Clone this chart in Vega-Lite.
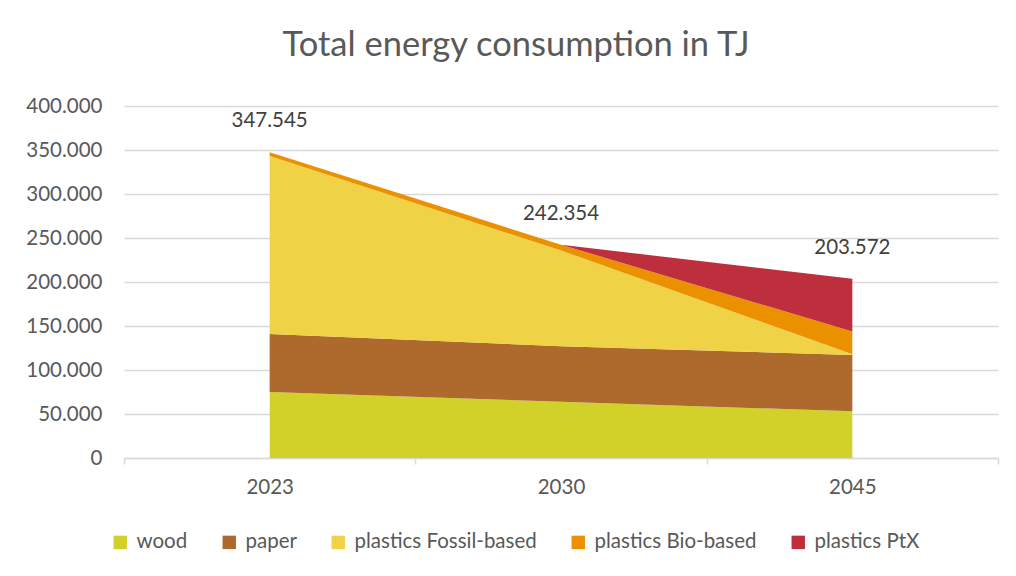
{
  "$schema": "https://vega.github.io/schema/vega-lite/v6.json",
  "width": 874,
  "height": 352,
  "autosize": "none",
  "padding": {"left": 124, "top": 106, "right": 18, "bottom": 118},
  "background": "white",
  "title": {
    "text": "Total energy consumption in TJ",
    "anchor": "middle",
    "frame": "group",
    "dx": -45,
    "baseline": "alphabetic",
    "offset": 6,
    "font": "Lato",
    "fontSize": 34.5,
    "fontWeight": "normal",
    "color": "#595959"
  },
  "data": {
    "values": [
      {"year": "2023", "source": "wood", "value": 75000},
      {"year": "2023", "source": "paper", "value": 66000},
      {"year": "2023", "source": "plastics Fossil-based", "value": 202045},
      {"year": "2023", "source": "plastics Bio-based", "value": 4500},
      {"year": "2023", "source": "plastics PtX", "value": 0},
      {"year": "2030", "source": "wood", "value": 64000},
      {"year": "2030", "source": "paper", "value": 63000},
      {"year": "2030", "source": "plastics Fossil-based", "value": 108854},
      {"year": "2030", "source": "plastics Bio-based", "value": 6500},
      {"year": "2030", "source": "plastics PtX", "value": 0},
      {"year": "2045", "source": "wood", "value": 53000},
      {"year": "2045", "source": "paper", "value": 64000},
      {"year": "2045", "source": "plastics Fossil-based", "value": 800},
      {"year": "2045", "source": "plastics Bio-based", "value": 26000},
      {"year": "2045", "source": "plastics PtX", "value": 59772}
    ]
  },
  "encoding": {
    "x": {
      "field": "year",
      "type": "ordinal",
      "bandPosition": 0.5,
      "scale": {"type": "band", "paddingInner": 0, "paddingOuter": 0},
      "axis": {
        "title": null,
        "labelAngle": 0,
        "tickBand": "extent",
        "ticks": true,
        "tickSize": 6,
        "tickColor": "#d9d9d9",
        "tickWidth": 1.5,
        "domain": true,
        "domainColor": "#d9d9d9",
        "domainWidth": 1.5,
        "grid": false,
        "labelPadding": 13,
        "labelFont": "Lato",
        "labelFontSize": 20.5,
        "labelColor": "#595959"
      }
    }
  },
  "layer": [
    {
      "transform": [
        {"calculate": "indexof(['wood', 'paper', 'plastics Fossil-based', 'plastics Bio-based', 'plastics PtX'], datum.source)", "as": "stack_rank"}
      ],
      "mark": {"type": "area", "interpolate": "linear", "opacity": 1},
      "encoding": {
        "y": {
          "field": "value",
          "type": "quantitative",
          "stack": "zero",
          "scale": {"domain": [0, 400000], "nice": false},
          "axis": {
            "title": null,
            "values": [0, 50000, 100000, 150000, 200000, 250000, 300000, 350000, 400000],
            "format": ",d",
            "ticks": false,
            "domain": false,
            "grid": true,
            "gridColor": "#d9d9d9",
            "gridWidth": 1.5,
            "labelPadding": 22,
            "labelFont": "Lato",
            "labelFontSize": 20.5,
            "labelColor": "#595959"
          }
        },
        "order": {"field": "stack_rank", "type": "quantitative", "sort": "ascending"},
        "color": {
          "field": "source",
          "type": "nominal",
          "sort": ["wood", "paper", "plastics Fossil-based", "plastics Bio-based", "plastics PtX"],
          "scale": {
            "domain": ["wood", "paper", "plastics Fossil-based", "plastics Bio-based", "plastics PtX"],
            "range": ["#d2d12a", "#ad6a2c", "#efd246", "#eb9100", "#be2f3e"]
          },
          "legend": {
            "title": null,
            "orient": "none",
            "direction": "horizontal",
            "legendX": -14,
            "legendY": 426,
            "symbolType": "square",
            "symbolSize": 180,
            "symbolStrokeWidth": 0,
            "symbolOpacity": 1,
            "labelFont": "Lato",
            "labelFontSize": 20.5,
            "labelColor": "#595959",
            "labelLimit": 400,
            "labelOffset": 6,
            "columnPadding": 31
          }
        }
      }
    },
    {
      "transform": [
        {"aggregate": [{"op": "sum", "field": "value", "as": "total"}], "groupby": ["year"]}
      ],
      "mark": {
        "type": "text",
        "dy": -31,
        "baseline": "middle",
        "align": "center",
        "font": "Lato",
        "fontSize": 20.5,
        "color": "#404040"
      },
      "encoding": {
        "y": {"field": "total", "type": "quantitative"},
        "text": {"field": "total", "type": "quantitative", "format": ",.0f"}
      }
    }
  ],
  "config": {
    "locale": {
      "number": {"decimal": ",", "thousands": ".", "grouping": [3], "currency": ["", " €"]}
    },
    "view": {"stroke": null}
  }
}
